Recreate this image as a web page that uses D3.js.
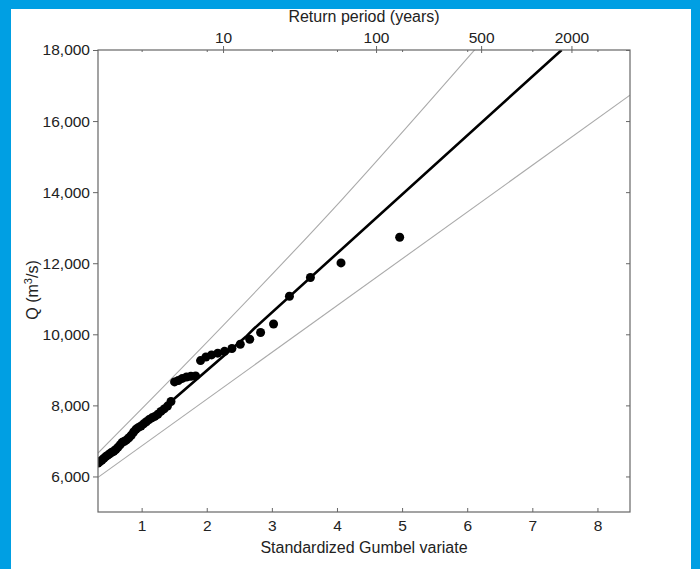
<!DOCTYPE html>
<html>
<head>
<meta charset="utf-8">
<script src="https://cdn.jsdelivr.net/npm/d3@7"></script>
<style>
  html, body { margin: 0; padding: 0; background: #009fe3; }
  svg { display: block; }
  text { font-family: "Liberation Sans", Arial, Helvetica, sans-serif; fill: #222; }
</style>
</head>
<body>
<svg id="chart" width="700" height="569"></svg>
<script>
// ---- data ----
const pointX = [4.963, 4.062, 3.592, 3.270, 3.026, 2.827, 2.660, 2.515, 2.387, 2.273,
  2.169, 2.074, 1.987, 1.905, 1.829, 1.757, 1.690, 1.625, 1.564, 1.506,
  1.451, 1.397, 1.346, 1.296, 1.249, 1.203, 1.158, 1.114, 1.072, 1.031,
  0.991, 0.952, 0.914, 0.877, 0.841, 0.805, 0.770, 0.736, 0.702, 0.669,
  0.636, 0.604, 0.572, 0.541, 0.510, 0.480, 0.449, 0.420, 0.390, 0.361, 0.332];
const pointQ = [12730, 12010, 11600, 11070, 10290, 10050, 9860, 9720, 9600, 9520,
  9470, 9420, 9360, 9260, 8830, 8820, 8800, 8760, 8700, 8660,
  8110, 7980, 7900, 7830, 7750, 7690, 7650, 7600, 7540, 7480,
  7420, 7380, 7330, 7250, 7160, 7090, 7030, 6990, 6960, 6890,
  6820, 6760, 6710, 6680, 6640, 6600, 6560, 6510, 6460, 6420, 6380];

const fitX = [0.33, 2.60, 2.72, 7.45];
const fitQ = [6330, 9930, 10150, 18000];
const upperX = [0.33, 1.75, 4.08, 6.16];
const upperQ = [6660, 9300, 13800, 18100];
const lowerX = [0.33, 8.50];
const lowerQ = [5975, 16730];

const xTicks = [1, 2, 3, 4, 5, 6, 7, 8];
const yTicks = [6000, 8000, 10000, 12000, 14000, 16000, 18000];
const returnPeriods = [10, 100, 500, 2000];

// ---- layout ----
const svg = d3.select("#chart");
svg.append("rect").attr("x", 11).attr("y", 9).attr("width", 680).attr("height", 560).attr("fill", "#fff");

const L = 98, R = 630, T = 50, B = 512;
const x = d3.scaleLinear().domain([0.33, 8.5]).range([L, R]);
const y = d3.scaleLinear().domain([5000, 18000]).range([B, T]);
const gumbel = t => -Math.log(-Math.log(1 - 1 / t));
const fmt = d3.format(",");

svg.append("clipPath").attr("id", "clip").append("rect")
  .attr("x", L).attr("y", T).attr("width", R - L).attr("height", B - T);

const plot = svg.append("g").attr("clip-path", "url(#clip)");
const line = d3.line().x(d => x(d[0])).y(d => y(d[1]));

plot.append("path").datum(lowerX.map((v, i) => [v, lowerQ[i]]))
  .attr("d", line).attr("fill", "none").attr("stroke", "#aaa").attr("stroke-width", 1.1);
plot.append("path").datum(upperX.map((v, i) => [v, upperQ[i]]))
  .attr("d", d3.line().x(d => x(d[0])).y(d => y(d[1])).curve(d3.curveMonotoneX))
  .attr("fill", "none").attr("stroke", "#aaa").attr("stroke-width", 1.1);
plot.append("path").datum(fitX.map((v, i) => [v, fitQ[i]]))
  .attr("d", line).attr("fill", "none")
  .attr("stroke", "#000").attr("stroke-width", 2.6);

plot.selectAll("circle").data(pointX.map((v, i) => [v, pointQ[i]])).join("circle")
  .attr("cx", d => x(d[0])).attr("cy", d => y(d[1])).attr("r", 4.5).attr("fill", "#000");

// ---- axes ----
function style(g) {
  g.select(".domain").remove();
  g.selectAll(".tick line").attr("stroke", "#666");
  g.selectAll(".tick text").attr("fill", "#222").style("font-size", "15.5px")
    .style("font-family", "'Liberation Sans', Arial, sans-serif");
}

svg.append("g").attr("transform", `translate(0,${B})`)
  .call(d3.axisBottom(x).tickValues(xTicks).tickSizeInner(-4).tickSizeOuter(0).tickPadding(8))
  .call(style);
svg.append("g").attr("transform", `translate(${L},0)`)
  .call(d3.axisLeft(y).tickValues(yTicks).tickFormat(fmt).tickSizeInner(5).tickSizeOuter(0).tickPadding(3))
  .call(style);
svg.append("g").attr("transform", `translate(${R},0)`)
  .call(d3.axisRight(y).tickValues(yTicks).tickFormat("").tickSizeInner(-4).tickSizeOuter(0))
  .call(style);
svg.append("g").attr("transform", `translate(0,${T})`)
  .call(d3.axisTop(x).tickValues(xTicks).tickFormat("").tickSizeInner(-2).tickSizeOuter(0))
  .call(style);
const topAxis = svg.append("g").attr("transform", `translate(0,${T})`)
  .call(d3.axisTop(x).tickValues(returnPeriods.map(gumbel)).tickFormat((d, i) => returnPeriods[i])
    .tickSizeInner(4).tickSizeOuter(0).tickPadding(3))
  .call(style);
topAxis.selectAll(".tick").append("line").attr("y1", 0).attr("y2", 3).attr("stroke", "#666");

svg.append("rect").attr("x", L).attr("y", T).attr("width", R - L).attr("height", B - T)
  .attr("fill", "none").attr("stroke", "#666").attr("stroke-width", 1.2);

// ---- titles ----
svg.append("text").attr("x", 364).attr("y", 22).attr("text-anchor", "middle")
  .style("font-size", "16px").text("Return period (years)");
svg.append("text").attr("x", 364).attr("y", 553).attr("text-anchor", "middle")
  .style("font-size", "16px").text("Standardized Gumbel variate");
const yl = svg.append("text").attr("transform", "translate(38,290) rotate(-90)")
  .attr("text-anchor", "middle").style("font-size", "16px");
yl.append("tspan").text("Q (m");
yl.append("tspan").attr("dy", -6).style("font-size", "11px").text("3");
yl.append("tspan").attr("dy", 6).text("/s)");
</script>
</body>
</html>
